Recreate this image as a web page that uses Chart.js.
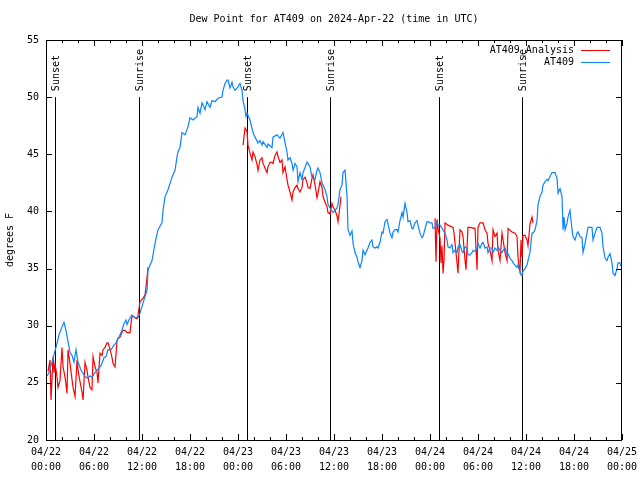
<!DOCTYPE html>
<html>
<head>
<meta charset="utf-8">
<script src="https://cdn.jsdelivr.net/npm/chart.js@4.4.1/dist/chart.umd.min.js"></script>
<style>
  html, body { margin: 0; padding: 0; background: #fff; }
  canvas { display: block; }
</style>
</head>
<body>
<canvas id="graf_dew" width="640" height="480"></canvas>
<script>
// hours since 2024-04-22 00:00 UTC, dew point in F
var obsHours = [0.13,0.38,0.75,1.0,1.25,1.63,2.0,2.25,2.5,2.75,3.0,3.25,3.5,3.75,4.0,4.38,4.75,5.13,5.5,5.75,
  6.13,6.38,6.88,7.25,7.5,7.75,8.13,8.5,8.75,9.13,9.5,9.75,10.0,10.13,10.5,10.75,11.13,11.5,11.75,12.13,
  12.63,12.75,13.25,13.63,14.0,14.5,14.63,14.88,15.25,15.75,16.13,16.38,16.5,16.75,17.0,17.38,17.75,18.0,18.38,18.88,
  19.0,19.25,19.5,19.88,20.13,20.5,20.75,21.13,21.5,22.0,22.13,22.38,22.63,22.75,23.0,23.25,23.38,23.63,24.0,24.25,
  24.5,24.63,24.88,25.0,25.13,25.5,25.88,26.13,26.5,26.75,27.0,27.13,27.63,27.75,28.25,28.38,28.88,29.25,29.63,29.88,
  30.13,30.25,30.5,30.75,30.88,31.13,31.38,31.5,31.75,32.0,32.13,32.63,32.75,33.0,33.25,33.63,33.88,34.0,34.25,34.5,
  34.88,35.13,35.25,35.5,35.88,36.38,36.5,36.75,37.0,37.13,37.38,37.63,37.75,38.0,38.25,38.38,38.63,38.88,39.0,39.25,
  39.5,39.63,39.88,40.13,40.25,40.5,40.75,40.88,41.13,41.38,41.5,41.75,42.0,42.13,42.38,42.63,42.75,43.0,43.25,43.38,
  43.63,43.88,44.0,44.25,44.5,44.63,44.88,45.13,45.25,45.5,45.75,45.88,46.13,46.38,46.5,46.75,47.0,47.13,47.38,47.63,
  47.75,48.0,48.25,48.38,48.63,48.88,49.0,49.25,49.63,49.88,50.13,50.25,50.5,50.75,50.88,51.13,51.38,51.5,51.75,52.0,
  52.13,52.38,52.63,52.75,53.0,53.25,53.38,53.63,53.88,54.0,54.25,54.5,54.63,54.88,55.13,55.25,55.5,55.75,55.88,56.13,
  56.38,56.5,56.75,57.0,57.13,57.38,57.63,57.75,58.0,58.25,58.38,58.63,58.88,59.0,59.25,59.5,59.63,59.88,60.13,60.25,
  60.5,60.75,60.88,61.13,61.38,61.5,61.75,62.0,62.13,62.38,62.63,62.75,63.25,63.63,63.88,64.0,64.25,64.5,64.63,64.75,
  64.88,65.13,65.25,65.5,65.75,65.88,66.13,66.38,66.5,66.75,67.0,67.13,67.38,67.63,67.75,68.25,68.38,68.63,68.88,69.25,
  69.5,69.63,69.88,70.13,70.25,70.5,70.75,70.88,71.13,71.38,71.5,71.75,71.88];
var obsDewF = [25.6,25.9,26.8,27.5,28.1,29.2,29.9,30.3,29.6,28.6,27.7,27.4,26.8,27.9,26.8,26.1,25.7,25.4,25.6,25.5,
  25.9,26.1,26.5,27.2,27.3,27.9,27.9,28.3,28.5,29.0,29.6,30.2,30.5,30.1,30.7,30.9,30.7,30.7,31.1,32.0,
  33.1,34.9,35.7,37.2,38.4,39.0,40.1,41.3,41.9,43.0,43.6,44.8,45.2,45.6,46.9,46.7,47.4,48.2,48.0,48.3,
  49.1,48.6,49.5,48.9,49.6,49.1,49.7,49.6,49.9,50.0,50.6,51.2,51.5,51.5,50.8,51.3,50.9,50.6,50.9,51.2,
  50.6,49.7,48.9,48.3,48.6,48.0,46.9,46.5,46.0,46.2,45.8,46.1,45.6,45.9,45.6,46.5,46.7,46.4,46.9,46.0,
  45.2,44.5,44.7,44.2,43.6,44.2,43.9,42.6,43.4,42.8,43.4,44.3,44.2,43.9,43.0,42.8,43.6,43.8,43.4,42.5,
  41.9,41.3,40.6,40.3,39.9,40.3,40.6,41.9,42.3,43.4,43.6,41.3,38.4,37.9,38.3,37.2,36.4,36.0,35.6,35.1,
  35.7,36.6,36.2,36.6,36.8,37.3,37.5,36.9,36.8,36.9,36.8,37.3,38.2,38.1,39.1,39.3,38.9,38.1,37.7,38.2,
  38.4,38.4,38.2,39.2,39.9,39.5,40.7,39.9,39.1,39.2,38.5,38.5,39.0,39.2,38.8,38.1,37.7,37.8,38.5,39.1,
  39.1,39.0,39.0,38.5,38.6,39.1,38.8,38.8,38.4,38.1,37.5,36.9,36.8,37.1,36.4,36.6,36.4,36.9,37.1,36.5,
  36.4,36.9,36.8,36.2,36.2,36.4,36.6,36.5,36.8,37.2,36.8,37.2,37.3,36.8,36.9,36.4,36.8,36.8,36.4,36.8,
  36.6,36.9,36.6,36.4,36.6,36.8,36.3,36.3,35.9,35.7,35.5,35.3,35.1,35.3,34.7,34.4,34.8,35.0,35.3,35.7,
  36.4,38.1,38.1,38.4,39.2,40.6,41.3,41.7,42.3,42.6,42.8,42.7,43.4,43.4,42.9,41.6,42.0,41.3,38.4,39.5,
  38.4,39.0,39.5,40.1,38.4,37.8,37.5,38.1,38.2,37.8,37.7,36.4,37.2,38.1,38.6,38.6,37.5,38.1,38.6,38.6,
  38.1,36.9,35.9,35.7,36.0,36.3,35.5,34.6,34.4,35.0,35.5,35.5,35.2];

// analysis series, null = no analysis
var anaHours = [0.25,0.5,0.63,0.88,1.0,1.13,1.38,1.5,1.75,2.0,2.13,2.38,2.63,2.75,3.0,3.25,3.38,3.63,3.88,4.0,
  4.25,4.5,4.63,4.88,5.13,5.25,5.5,5.75,5.88,6.13,6.38,6.5,6.75,7.0,7.13,7.38,7.63,7.75,8.0,8.25,
  8.38,8.63,8.88,9.0,9.25,9.5,9.63,9.88,10.13,10.5,10.75,11.13,11.38,11.5,11.75,12.0,12.13,12.38,12.63,12.75,
  13.0,
  24.63,24.88,25.13,25.25,25.5,25.75,25.88,26.13,26.38,26.5,26.75,27.0,27.13,27.38,27.63,27.75,28.0,28.25,28.38,28.63,
  28.88,29.0,29.25,29.5,29.63,29.88,30.13,30.25,30.5,30.75,30.88,31.13,31.38,31.5,31.75,32.0,32.13,32.38,32.63,32.75,
  33.0,33.25,33.38,33.63,33.88,34.0,34.25,34.5,34.63,34.88,35.13,35.25,35.5,35.75,35.88,36.13,36.38,36.5,36.75,36.88,
  37.0,
  48.63,48.75,48.88,49.0,49.25,49.38,49.5,49.63,49.75,49.88,50.25,50.88,51.0,51.13,51.38,51.5,51.75,52.0,52.13,52.38,
  52.5,52.63,52.75,53.0,53.63,53.88,54.0,54.25,54.63,54.88,55.13,55.25,55.5,55.75,55.88,56.13,56.38,56.5,56.75,57.0,
  57.13,57.38,57.63,57.75,58.25,58.63,58.88,59.0,59.13,59.25,59.38,59.5,59.63,59.88,60.13,60.25,60.5,60.75,60.88];
var anaDewF = [26.0,27.0,23.5,27.3,25.9,26.7,25.5,24.6,25.2,28.1,26.4,25.5,24.1,27.9,26.7,25.3,24.6,23.8,27.0,26.1,
  25.1,24.2,23.5,26.8,26.1,25.5,24.6,24.4,27.3,26.4,25.9,25.0,27.6,27.4,27.9,28.1,28.5,28.5,28.0,27.2,
  26.7,26.4,28.7,28.9,29.0,29.4,29.6,29.6,29.4,29.4,30.9,30.7,30.6,30.9,32.1,32.3,32.4,32.7,34.2,35.1,
  null,
  45.8,47.3,47.0,45.8,45.1,44.5,45.2,44.8,44.1,43.6,44.5,44.7,44.2,43.8,43.4,43.9,44.3,44.3,44.2,44.9,
  45.2,44.8,44.3,44.5,43.4,43.9,42.8,42.3,41.7,41.0,41.7,42.1,42.3,42.0,41.7,42.1,42.8,43.0,42.5,42.1,
  42.0,42.9,43.2,42.3,41.2,41.6,42.6,42.1,41.3,40.8,40.4,39.9,39.8,40.7,40.4,40.1,39.6,39.1,40.5,41.3,
  null,
  39.4,35.6,39.3,38.5,37.7,35.5,37.0,34.6,35.7,39.0,38.8,38.6,38.1,37.2,35.5,34.6,38.4,38.2,37.8,35.7,
  34.9,36.9,38.6,38.6,38.5,34.9,38.6,39.0,39.0,38.4,38.1,37.2,36.6,35.7,38.4,37.8,38.1,36.6,35.7,38.1,
  37.5,36.4,35.7,38.5,38.2,38.1,37.8,36.0,35.1,34.7,37.5,36.0,37.9,37.9,37.5,37.0,38.9,39.5,39.0];

var sunHours = [1.16, 11.66, 25.16, 35.54, 49.16, 59.54];
var sunLabels = ['Sunset', 'Sunrise', 'Sunset', 'Sunrise', 'Sunset', 'Sunrise'];
var sunLineTop = 50;

var xTickDates = ['04/22','04/22','04/22','04/22','04/23','04/23','04/23','04/23','04/24','04/24','04/24','04/24','04/25'];
var xTickTimes = ['00:00','06:00','12:00','18:00','00:00','06:00','12:00','18:00','00:00','06:00','12:00','18:00','00:00'];

var MONO = '"DejaVu Sans Mono", "Liberation Mono", monospace';
var RED = '#ff0000';
var BLUE = '#0a84ff';

function pts(hs, vs) {
  return hs.map(function (h, i) { return { x: h, y: vs[i] === null ? null : vs[i] }; });
}

var gnuStyle = {
  id: 'gnuStyle',
  beforeDatasetsDraw: function (chart) {
    var c = chart.ctx, xs = chart.scales.x, ys = chart.scales.y;
    c.save();
    c.strokeStyle = '#000';
    c.lineWidth = 1;
    sunHours.forEach(function (h) {
      var px = Math.round(xs.getPixelForValue(h)) + 0.5;
      c.beginPath();
      c.moveTo(px, ys.getPixelForValue(20));
      c.lineTo(px, ys.getPixelForValue(sunLineTop));
      c.stroke();
    });
    c.restore();
  },
  afterDraw: function (chart) {
    var c = chart.ctx, a = chart.chartArea, xs = chart.scales.x, ys = chart.scales.y;
    c.save();
    c.strokeStyle = '#000';
    c.fillStyle = '#000';
    c.lineWidth = 1;
    // frame
    c.strokeRect(a.left + 0.5, a.top + 0.5, a.right - a.left - 1, a.bottom - a.top);
    // x tics, both sides, inward
    c.beginPath();
    for (var h = 0; h <= 72; h += 2) {
      var px = Math.round(xs.getPixelForValue(h)) + 0.5;
      var len = (h % 6 === 0) ? 6 : 3;
      c.moveTo(px, a.bottom); c.lineTo(px, a.bottom - len);
      c.moveTo(px, a.top); c.lineTo(px, a.top + len);
    }
    for (var v = 20; v <= 55; v += 5) {
      var py = Math.round(ys.getPixelForValue(v)) + 0.5;
      c.moveTo(a.left, py); c.lineTo(a.left + 6, py);
      c.moveTo(a.right, py); c.lineTo(a.right - 6, py);
    }
    c.stroke();

    c.font = '10px ' + MONO;
    // sun labels
    sunHours.forEach(function (h, i) {
      var px = xs.getPixelForValue(h) + 1;
      var py = ys.getPixelForValue(sunLineTop) - 6;
      c.save();
      c.translate(px, py);
      c.rotate(-Math.PI / 2);
      c.textAlign = 'left';
      c.textBaseline = 'middle';
      c.fillText(sunLabels[i], 0, 0);
      c.restore();
    });

    // key, top right
    var ds = chart.data.datasets;
    ds.forEach(function (d, i) {
      var ty = a.top + 10 + i * 12;
      c.textAlign = 'right';
      c.textBaseline = 'middle';
      c.fillStyle = '#000';
      c.fillText(d.label, a.right - 48, ty);
      c.strokeStyle = d.borderColor;
      c.beginPath();
      c.moveTo(a.right - 41, Math.round(ty) + 0.5);
      c.lineTo(a.right - 12, Math.round(ty) + 0.5);
      c.stroke();
    });

    // title
    c.fillStyle = '#000';
    c.textAlign = 'center';
    c.textBaseline = 'middle';
    c.fillText('Dew Point for AT409 on 2024-Apr-22 (time in UTC)', (a.left + a.right) / 2, 19);
    // y label
    c.save();
    c.translate(10, (a.top + a.bottom) / 2);
    c.rotate(-Math.PI / 2);
    c.fillText('degrees F', 0, 0);
    c.restore();
    c.restore();
  }
};

var ctx = document.getElementById('graf_dew').getContext('2d');
var chart = new Chart(ctx, {
  type: 'line',
  data: {
    datasets: [{
      label: 'AT409_Analysis',
      data: pts(anaHours, anaDewF),
      borderColor: RED,
      backgroundColor: 'transparent',
      borderWidth: 1.2,
      pointRadius: 0,
      lineTension: 0,
      spanGaps: false,
      order: 2
    }, {
      label: 'AT409',
      data: pts(obsHours, obsDewF),
      borderColor: BLUE,
      backgroundColor: 'transparent',
      borderWidth: 1.2,
      pointRadius: 0,
      lineTension: 0,
      order: 1
    }]
  },
  options: {
    responsive: false,
    animation: false,
    events: [],
    layout: { padding: { top: 40, right: 0, left: 0, bottom: 0 } },
    plugins: { legend: { display: false }, title: { display: false }, tooltip: { enabled: false } },
    scales: {
      x: {
        type: 'linear',
        min: 0, max: 72,
        grid: { display: false, drawTicks: false, tickLength: 0 },
        border: { display: false },
        afterFit: function (s) { s.height = 40; s.paddingRight = 18; },
        afterBuildTicks: function (s) {
          s.ticks = xTickDates.map(function (d, i) { return { value: i * 6 }; });
        },
        ticks: {
          autoSkip: false,
          maxRotation: 0,
          padding: 5,
          color: '#000',
          font: { family: MONO, size: 10, lineHeight: 1.5 },
          callback: function (val, i) { return [xTickDates[i], xTickTimes[i]]; }
        }
      },
      y: {
        min: 20, max: 55,
        grid: { display: false, drawTicks: false, tickLength: 0 },
        border: { display: false },
        afterFit: function (s) { s.width = 46; },
        ticks: {
          stepSize: 5,
          padding: 7,
          color: '#000',
          font: { family: MONO, size: 10 }
        }
      }
    }
  },
  plugins: [gnuStyle]
});
</script>
</body>
</html>
